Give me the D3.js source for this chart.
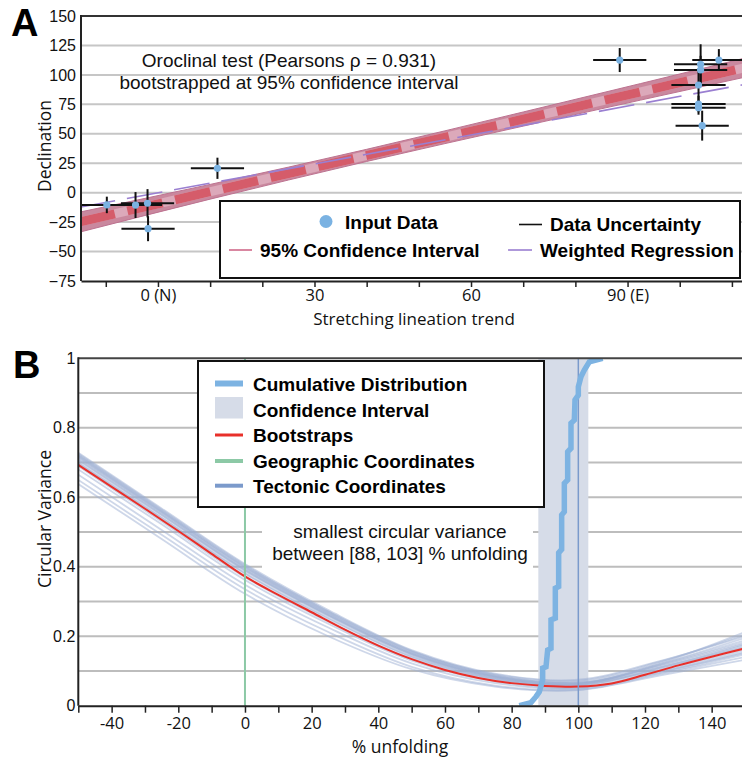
<!DOCTYPE html>
<html>
<head>
<meta charset="utf-8">
<script src="https://cdn.jsdelivr.net/npm/d3@7"></script>
<style>
  body { margin: 0; background: #fff; }
  svg { display: block; }
</style>
</head>
<body>
<script>
// ---- panel A: oroclinal test ----
const trend = [-9.8, -4.3, -2.0, -1.9, 11.4, 88.5, 104.0, 107.5, 104.0, 103.6, 103.6, 103.6, 104.3];
const decl = [-10.4, -10.5, -9.0, -30.6, 20.7, 112.6, 109.0, 112.6, 104.2, 91.4, 75.3, 72.2, 56.9];
const trendErr = [5.1, 5.1, 5.1, 5.1, 5.1, 5.1, 5.1, 5.1, 5.1, 5.2, 5.2, 5.2, 5.1];
const declErr = [7, 11, 12, 10.6, 9, 10.2, 17, 9.3, 12, 14, 7, 6, 12.7];

const ciTrend = [-15, 10, 40, 70, 115];
const ciLow = [-33.5, -5.5, 26.5, 56.5, 100.5];
const ciHigh = [-16.5, 7.0, 36.8, 68.5, 117.0];
const fitTrend = [-15, 115];
const fitDecl = [-24.9, 108.7];
const wlsTrend = [-15, 115];
const wlsDecl = [-12.4, 94.0];

const yTicksA = [-75, -50, -25, 0, 25, 50, 75, 100, 125, 150];
const xTicksA = [-10, 0, 10, 20, 30, 40, 50, 60, 70, 80, 90, 100, 110];
const xLabelAtA = [0, 30, 60, 90];
const xLabelTextA = ["0 (N)", "30", "60", "90 (E)"];

// ---- panel B: unfolding test ----
const unfold = [-50, -40, -30, -20, -10, 0, 10, 20, 30, 40, 50, 60, 70, 80, 90, 100, 110, 120, 130, 140, 150];
const meanVar = [0.693, 0.63, 0.567, 0.503, 0.437, 0.372, 0.319, 0.269, 0.219, 0.173, 0.134, 0.103, 0.08, 0.065, 0.057, 0.055, 0.064, 0.089, 0.116, 0.141, 0.165];

const bootKnots = [-50, -25, 0, 25, 50, 75, 100, 125, 150];
const bootstraps = [
  [0.725, 0.565, 0.405, 0.272, 0.158, 0.088, 0.065, 0.112, 0.170],
  [0.718, 0.558, 0.398, 0.266, 0.152, 0.084, 0.062, 0.118, 0.182],
  [0.712, 0.553, 0.392, 0.262, 0.150, 0.082, 0.060, 0.108, 0.168],
  [0.706, 0.548, 0.388, 0.258, 0.146, 0.080, 0.063, 0.122, 0.195],
  [0.700, 0.542, 0.382, 0.253, 0.142, 0.078, 0.058, 0.100, 0.155],
  [0.722, 0.562, 0.400, 0.268, 0.155, 0.090, 0.072, 0.128, 0.205],
  [0.715, 0.556, 0.395, 0.263, 0.150, 0.085, 0.068, 0.125, 0.212],
  [0.690, 0.530, 0.370, 0.242, 0.135, 0.075, 0.058, 0.110, 0.175],
  [0.680, 0.522, 0.362, 0.236, 0.130, 0.070, 0.052, 0.098, 0.152],
  [0.665, 0.506, 0.348, 0.225, 0.122, 0.065, 0.050, 0.095, 0.148],
  [0.650, 0.492, 0.335, 0.212, 0.112, 0.058, 0.046, 0.092, 0.140],
  [0.638, 0.480, 0.322, 0.200, 0.105, 0.055, 0.045, 0.088, 0.132],
  [0.728, 0.568, 0.408, 0.275, 0.160, 0.092, 0.075, 0.130, 0.200],
  [0.708, 0.550, 0.390, 0.260, 0.148, 0.083, 0.066, 0.115, 0.178],
  [0.720, 0.560, 0.402, 0.270, 0.156, 0.086, 0.064, 0.104, 0.160],
  [0.698, 0.540, 0.380, 0.250, 0.140, 0.077, 0.061, 0.120, 0.188]
];

const cdfPct = [82.3, 85.8, 87.3, 88.3, 89.3, 89.3, 90.3, 90.8, 91.8, 91.8, 93.1, 93.1, 94.1, 94.1, 95.0, 95.0, 95.8, 95.8, 96.8, 96.8, 97.8, 97.8, 98.8, 99.0, 100, 100, 100.8, 101.8, 103.3, 107.3];
const cdfFrac = [0.0, 0.009, 0.026, 0.04, 0.074, 0.108, 0.112, 0.16, 0.165, 0.247, 0.252, 0.338, 0.343, 0.44, 0.45, 0.549, 0.558, 0.64, 0.65, 0.731, 0.741, 0.813, 0.822, 0.88, 0.894, 0.918, 0.947, 0.966, 0.99, 1.0];

const ciUnfold = [88, 103];
const geoUnfold = 0;
const tecUnfold = 100;

const yTicksB = [0, 0.2, 0.4, 0.6, 0.8, 1];
const yGridB = [0.1, 0.2, 0.3, 0.4, 0.5, 0.6, 0.7, 0.8, 0.9];
const xTicksB = [-50, -40, -30, -20, -10, 0, 10, 20, 30, 40, 50, 60, 70, 80, 90, 100, 110, 120, 130, 140, 150];
const xLabelsB = [-40, -20, 0, 20, 40, 60, 80, 100, 120, 140];

const W = 742, H = 760;
const sans = "'Liberation Sans', Arial, Helvetica, sans-serif";
const myriad = "'Open Sans', 'Noto Sans', sans-serif";

const svg = d3.select("body").append("svg")
  .attr("width", W).attr("height", H)
  .attr("viewBox", [0, 0, W, H])
  .style("font-family", sans);

const defs = svg.append("defs");

// ================= PANEL A =================
const A = { left: 81, top: 16, right: 758, bottom: 281 };
const xA = d3.scaleLinear().domain([-14.75, 115]).range([A.left, A.right]);
const yA = d3.scaleLinear().domain([-75, 150]).range([A.bottom, A.top]);

defs.append("clipPath").attr("id", "clipA").append("rect")
  .attr("x", A.left).attr("y", A.top)
  .attr("width", W - A.left).attr("height", A.bottom - A.top);

svg.append("g")
  .selectAll("line")
  .data(yTicksA.filter((d) => d > -75 && d < 150))
  .join("line")
  .attr("x1", A.left).attr("x2", W)
  .attr("y1", (d) => yA(d)).attr("y2", (d) => yA(d))
  .attr("stroke", "#c6c6c6").attr("stroke-width", 2);

const plotA = svg.append("g").attr("clip-path", "url(#clipA)");

// confidence band
plotA.append("path")
  .datum(ciTrend.map((t, i) => [t, ciLow[i], ciHigh[i]]))
  .attr("d", d3.area()
    .x((d) => xA(d[0])).y0((d) => yA(d[1])).y1((d) => yA(d[2]))
    .curve(d3.curveMonotoneX))
  .attr("fill", "#c9889e")
  .attr("stroke", "#bd7290").attr("stroke-width", 1);

const lineA = d3.line().x((d) => xA(d[0])).y((d) => yA(d[1]));
const fit = fitTrend.map((t, i) => [t, fitDecl[i]]);
plotA.append("path").datum(fit).attr("d", lineA)
  .attr("fill", "none").attr("stroke", "#dca9ba").attr("stroke-width", 9);
plotA.append("path").datum(fit).attr("d", lineA)
  .attr("fill", "none").attr("stroke", "#d55c6a").attr("stroke-width", 9)
  .attr("stroke-dasharray", "36,13");

plotA.append("path")
  .datum(wlsTrend.map((t, i) => [t, wlsDecl[i]]))
  .attr("d", lineA)
  .attr("fill", "none").attr("stroke", "#9a7fd1").attr("stroke-width", 1.6)
  .attr("stroke-dasharray", "36,12");

// data with uncertainty crosses
const pts = trend.map((t, i) => ({ t, d: decl[i], et: trendErr[i], ed: declErr[i] }));
const errG = plotA.append("g").attr("stroke", "#111").attr("stroke-width", 2);
errG.selectAll(".eh").data(pts).join("line").attr("class", "eh")
  .attr("x1", (p) => xA(p.t - p.et)).attr("x2", (p) => xA(p.t + p.et))
  .attr("y1", (p) => yA(p.d)).attr("y2", (p) => yA(p.d));
errG.selectAll(".ev").data(pts).join("line").attr("class", "ev")
  .attr("x1", (p) => xA(p.t)).attr("x2", (p) => xA(p.t))
  .attr("y1", (p) => yA(p.d - p.ed)).attr("y2", (p) => yA(p.d + p.ed));
plotA.append("g").selectAll("circle").data(pts).join("circle")
  .attr("cx", (p) => xA(p.t)).attr("cy", (p) => yA(p.d)).attr("r", 3.6)
  .attr("fill", "#7ab2e2");

// frame + axes
svg.append("line").attr("x1", A.left).attr("x2", W).attr("y1", A.top).attr("y2", A.top)
  .attr("stroke", "#333").attr("stroke-width", 2);
svg.append("line").attr("x1", A.left).attr("x2", A.left).attr("y1", A.top - 1).attr("y2", A.bottom)
  .attr("stroke", "#222").attr("stroke-width", 2);

svg.append("g")
  .attr("transform", `translate(0,${A.bottom})`)
  .call(d3.axisBottom(xA).tickValues(xTicksA).tickSize(6).tickSizeOuter(0).tickPadding(2.5)
    .tickFormat((d) => {
      const k = xLabelAtA.indexOf(d);
      return k < 0 ? "" : xLabelTextA[k];
    }))
  .call((g) => g.select(".domain").attr("stroke", "#222").attr("stroke-width", 2))
  .call((g) => g.selectAll(".tick line").attr("stroke", "#222").attr("stroke-width", 1.5))
  .call((g) => g.selectAll("text").attr("font-family", myriad).attr("font-size", 16.5).attr("fill", "#111"));

svg.append("g")
  .attr("transform", `translate(${A.left},0)`)
  .call(d3.axisLeft(yA).tickValues(yTicksA).tickSize(0).tickPadding(5))
  .call((g) => g.select(".domain").remove())
  .call((g) => g.selectAll("text").attr("font-family", sans).attr("font-size", 16).attr("fill", "#111"));

svg.append("text")
  .attr("transform", "translate(51,146) rotate(-90)")
  .attr("text-anchor", "middle")
  .attr("font-family", myriad).attr("font-size", 17.5).attr("fill", "#111")
  .text("Declination");
svg.append("text")
  .attr("x", 414).attr("y", 324.5)
  .attr("text-anchor", "middle")
  .attr("font-family", myriad).attr("font-size", 17).attr("fill", "#111")
  .text("Stretching lineation trend");

svg.append("text").attr("x", 289).attr("y", 66.5).attr("text-anchor", "middle")
  .attr("font-size", 19).attr("fill", "#111")
  .text("Oroclinal test (Pearsons ρ = 0.931)");
svg.append("text").attr("x", 289).attr("y", 89).attr("text-anchor", "middle")
  .attr("font-size", 19).attr("fill", "#111")
  .text("bootstrapped at 95% confidence interval");

svg.append("text").attr("x", 11).attr("y", 36)
  .attr("font-size", 38).attr("font-weight", "bold").attr("fill", "#000").text("A");

// legend A
const legA = svg.append("g").attr("font-size", 19).attr("font-weight", "bold").attr("fill", "#000");
legA.append("rect").attr("x", 220).attr("y", 201).attr("width", 520).attr("height", 77)
  .attr("fill", "#fff").attr("stroke", "#111").attr("stroke-width", 2);
legA.append("circle").attr("cx", 326).attr("cy", 221.5).attr("r", 6.5).attr("fill", "#7ab2e2");
legA.append("text").attr("x", 345).attr("y", 229).text("Input Data");
legA.append("line").attr("x1", 519).attr("x2", 542).attr("y1", 224.5).attr("y2", 224.5)
  .attr("stroke", "#111").attr("stroke-width", 1.6);
legA.append("text").attr("x", 550).attr("y", 231).text("Data Uncertainty");
legA.append("line").attr("x1", 229).attr("x2", 252).attr("y1", 250).attr("y2", 250)
  .attr("stroke", "#d06a8a").attr("stroke-width", 1.6);
legA.append("text").attr("x", 260).attr("y", 256.5).text("95% Confidence Interval");
legA.append("line").attr("x1", 508).attr("x2", 532).attr("y1", 250).attr("y2", 250)
  .attr("stroke", "#9a7fd1").attr("stroke-width", 1.6);
legA.append("text").attr("x", 540).attr("y", 256.5).text("Weighted Regression");

// ================= PANEL B =================
const B = { left: 78.3, top: 358.3, right: 745, bottom: 705.7 };
const xB = d3.scaleLinear().domain([-50, 150]).range([B.left, B.right]);
const yB = d3.scaleLinear().domain([0, 1]).range([B.bottom, B.top]);

defs.append("clipPath").attr("id", "clipB").append("rect")
  .attr("x", B.left).attr("y", B.top)
  .attr("width", W - B.left).attr("height", B.bottom - B.top);

svg.append("g")
  .selectAll("line")
  .data(yGridB)
  .join("line")
  .attr("x1", B.left).attr("x2", W)
  .attr("y1", (d) => yB(d)).attr("y2", (d) => yB(d))
  .attr("stroke", "#bdbdbd").attr("stroke-width", 2);

const plotB = svg.append("g").attr("clip-path", "url(#clipB)");

plotB.append("rect")
  .attr("x", xB(ciUnfold[0])).attr("width", xB(ciUnfold[1]) - xB(ciUnfold[0]))
  .attr("y", B.top).attr("height", B.bottom - B.top)
  .attr("fill", "#d6dce8");

// white backing for annotation
svg.append("rect").attr("x", 262).attr("y", 513).attr("width", 271).attr("height", 60).attr("fill", "#fff");

const bootLine = d3.line()
  .x((d, i) => xB(bootKnots[i])).y((d) => yB(d))
  .curve(d3.curveCatmullRom.alpha(0.5));
plotB.append("g")
  .selectAll("path").data(bootstraps).join("path")
  .attr("d", bootLine)
  .attr("fill", "none").attr("stroke", "#9eb0d4").attr("stroke-opacity", 0.5).attr("stroke-width", 1.8);

plotB.append("path")
  .datum(meanVar)
  .attr("d", d3.line().x((d, i) => xB(unfold[i])).y((d) => yB(d)).curve(d3.curveCatmullRom.alpha(0.5)))
  .attr("fill", "none").attr("stroke", "#e8302a").attr("stroke-width", 2);

plotB.append("line")
  .attr("x1", xB(geoUnfold)).attr("x2", xB(geoUnfold)).attr("y1", B.top).attr("y2", B.bottom)
  .attr("stroke", "#8cc9a6").attr("stroke-width", 2);
plotB.append("line")
  .attr("x1", xB(tecUnfold)).attr("x2", xB(tecUnfold)).attr("y1", B.top).attr("y2", B.bottom)
  .attr("stroke", "#7b9acb").attr("stroke-width", 1.5);

plotB.append("path")
  .datum(cdfPct.map((p, i) => [p, cdfFrac[i]]))
  .attr("d", d3.line().x((d) => xB(d[0])).y((d) => yB(d[1])))
  .attr("fill", "none").attr("stroke", "#7db3e2").attr("stroke-width", 5.5)
  .attr("stroke-linejoin", "miter");

// frame + axes
svg.append("line").attr("x1", B.left).attr("x2", W).attr("y1", B.top).attr("y2", B.top)
  .attr("stroke", "#444").attr("stroke-width", 2);
svg.append("line").attr("x1", B.left).attr("x2", B.left).attr("y1", B.top - 1).attr("y2", B.bottom)
  .attr("stroke", "#222").attr("stroke-width", 2);

svg.append("g")
  .attr("transform", `translate(0,${B.bottom})`)
  .call(d3.axisBottom(xB).tickValues(xTicksB).tickSize(7).tickSizeOuter(0).tickPadding(5)
    .tickFormat((d) => (xLabelsB.includes(d) ? String(d) : "")))
  .call((g) => g.select(".domain").attr("stroke", "#222").attr("stroke-width", 2))
  .call((g) => g.selectAll(".tick line").attr("stroke", "#222").attr("stroke-width", 1.5))
  .call((g) => g.selectAll("text").attr("font-family", myriad).attr("font-size", 16.5).attr("fill", "#111"));

svg.append("g")
  .attr("transform", `translate(${B.left},0)`)
  .call(d3.axisLeft(yB).tickValues(yTicksB).tickSize(0).tickPadding(3)
    .tickFormat((d) => (d === 0 || d === 1 ? String(d) : d.toFixed(1))))
  .call((g) => g.select(".domain").remove())
  .call((g) => g.selectAll("text").attr("font-family", sans).attr("font-size", 16).attr("fill", "#111"));

svg.append("text")
  .attr("transform", "translate(51,519) rotate(-90)")
  .attr("text-anchor", "middle")
  .attr("font-family", myriad).attr("font-size", 17.5).attr("fill", "#111")
  .text("Circular Variance");
svg.append("text")
  .attr("x", 400).attr("y", 753)
  .attr("text-anchor", "middle")
  .attr("font-family", myriad).attr("font-size", 17.5).attr("fill", "#111")
  .text("% unfolding");

svg.append("text").attr("x", 400).attr("y", 537.5).attr("text-anchor", "middle")
  .attr("font-size", 19).attr("fill", "#111").text("smallest circular variance");
svg.append("text").attr("x", 400).attr("y", 560).attr("text-anchor", "middle")
  .attr("font-size", 19).attr("fill", "#111").text("between [88, 103] % unfolding");

svg.append("text").attr("x", 13).attr("y", 378)
  .attr("font-size", 38).attr("font-weight", "bold").attr("fill", "#000").text("B");

// legend B
const legB = svg.append("g").attr("font-size", 19).attr("font-weight", "bold").attr("fill", "#000");
legB.append("rect").attr("x", 198).attr("y", 361).attr("width", 346).attr("height", 146)
  .attr("fill", "#fff").attr("stroke", "#111").attr("stroke-width", 2);
legB.append("line").attr("x1", 215).attr("x2", 243).attr("y1", 383.5).attr("y2", 383.5)
  .attr("stroke", "#7db3e2").attr("stroke-width", 6);
legB.append("text").attr("x", 253).attr("y", 390.5).text("Cumulative Distribution");
legB.append("rect").attr("x", 215).attr("y", 397).attr("width", 28).attr("height", 21.5)
  .attr("fill", "#d6dce8");
legB.append("text").attr("x", 253).attr("y", 417).text("Confidence Interval");
legB.append("line").attr("x1", 215).attr("x2", 243).attr("y1", 435).attr("y2", 435)
  .attr("stroke", "#e8302a").attr("stroke-width", 3);
legB.append("text").attr("x", 253).attr("y", 442).text("Bootstraps");
legB.append("line").attr("x1", 215).attr("x2", 243).attr("y1", 461).attr("y2", 461)
  .attr("stroke", "#8cc9a6").attr("stroke-width", 4);
legB.append("text").attr("x", 253).attr("y", 468).text("Geographic Coordinates");
legB.append("line").attr("x1", 215).attr("x2", 243).attr("y1", 485.7).attr("y2", 485.7)
  .attr("stroke", "#7b9acb").attr("stroke-width", 4);
legB.append("text").attr("x", 253).attr("y", 492.5).text("Tectonic Coordinates");
</script>
</body>
</html>
